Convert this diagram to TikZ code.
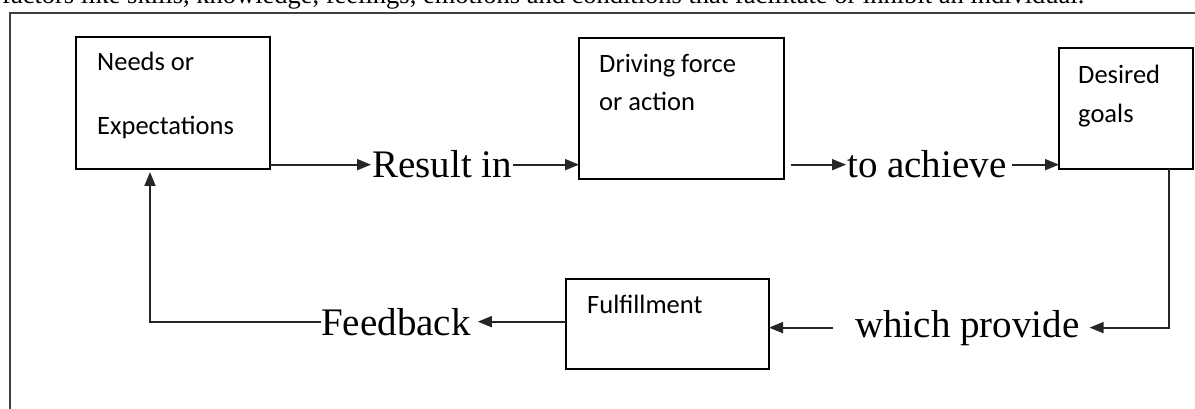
\documentclass[tikz,border=0pt]{standalone}
\usepackage{graphicx}
\usepackage{fontspec}
\setmainfont{Liberation Serif}
\newfontfamily\calib{Carlito}
\usetikzlibrary{arrows.meta}
\begin{document}
\begin{tikzpicture}[x=1pt,y=-1pt,
  box/.style={draw=black, line width=1.8pt, inner sep=0pt, outer sep=0pt, anchor=north west},
  btxt/.style={font=\calib\fontsize{26.5}{30}\selectfont, inner sep=0pt, anchor=base west},
  lbl/.style={font=\fontsize{39}{44}\selectfont, inner sep=0pt, anchor=base west},
  arr/.style={draw=black!85, line width=1.8pt, -{Triangle[length=14pt,width=11pt]}},
  frame/.style={draw=black!75, line width=2pt}]
\useasboundingbox (0,0) rectangle (1195,409);
\clip (0,0) rectangle (1195,409);
\fill[white] (0,0) rectangle (1195,409);
% cut-off text at the top
\node[anchor=base west, inner sep=0pt] (toptext) at (2,4)
  {\resizebox{1082pt}{!}{\fontsize{24}{28}\selectfont factors like skills, knowledge, feelings, emotions and conditions that facilitate or inhibit an individual.}};
% outer frame
\coordinate (fbl) at (10,409);
\coordinate (ftl) at (10,13);
\coordinate (ftr) at (1195,13);
\draw[frame] (fbl) -- (ftl) -- (ftr);
% boxes
\node[box, minimum width=194pt, minimum height=132pt] (A) at (76,37) {};
\node[btxt] (A1) at (97,71) {Needs or};
\node[btxt] (A2) at (97,135) {Expectations};
\node[box, minimum width=205pt, minimum height=141pt] (B) at (579,38) {};
\node[btxt] (B1) at (599,73) {Driving force};
\node[btxt] (B2) at (599,111) {or action};
\node[box, minimum width=134pt, minimum height=121pt] (C) at (1059,48) {};
\node[btxt] (C1) at (1078,84) {Desired};
\node[btxt] (C2) at (1078,123) {goals};
\node[box, minimum width=203pt, minimum height=90pt] (D) at (566,279) {};
\node[btxt] (D1) at (587,313) {Fulfillment};
% labels
\node[lbl] (R) at (372,178) {Result in};
\node[lbl] (T) at (847,178) {to achieve};
\node[lbl] (W) at (855,337) {which provide};
\node[lbl] (F) at (321,335) {Feedback};
% connectors
\draw[arr] (A.east |- R.west) -- ([xshift=-1pt]R.west);
\draw[arr] ([xshift=1pt]R.east) -- (B.west |- R.east);
\draw[arr] ([xshift=7pt]B.east |- T.west) -- ([xshift=-1pt]T.west);
\draw[arr] ([xshift=5pt]T.east) -- (C.west |- T.east);
\draw[arr] ([xshift=43pt]C.south) |- ([xshift=10pt]W.east);
\draw[arr] ([xshift=-22pt]W.west) -- (D.east |- W.west);
\draw[arr] (D.west |- F.east) -- ([xshift=7pt]F.east);
\draw[arr] (F.west) -| ([xshift=-23pt,yshift=-3pt]A.south);
\end{tikzpicture}
\end{document}
